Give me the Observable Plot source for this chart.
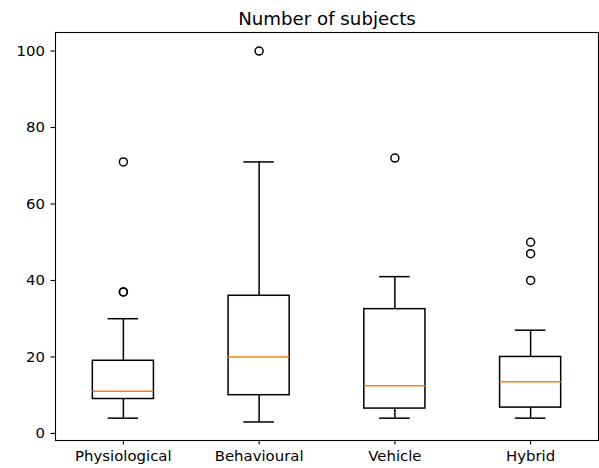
<!DOCTYPE html>
<html>
<head>
<meta charset="utf-8">
<script src="https://cdn.jsdelivr.net/npm/d3@7"></script>
<script src="https://cdn.jsdelivr.net/npm/@observablehq/plot@0.6"></script>
<style>
  html, body { margin: 0; padding: 0; background: #fff; }
</style>
</head>
<body>
<div id="chart"></div>
<script>
const categories = ["Physiological", "Behavioural", "Vehicle", "Hybrid"];
const whiskerLow = [4, 3, 4, 4];
const q1 = [9, 10, 6.5, 6.75];
const median = [11, 20, 12.5, 13.5];
const q3 = [19, 36, 32.5, 20];
const whiskerHigh = [30, 71, 41, 27];
const outliers = [
  [37, 37, 71],
  [100],
  [72],
  [40, 47, 50]
];
const yTicks = [0, 20, 40, 60, 80, 100];
const title = "Number of subjects";

const boxWidth = 0.45;
const capWidth = boxWidth / 2;

const boxes = categories.map((c, i) => ({
  pos: i + 1, name: c,
  lo: whiskerLow[i], q1: q1[i], med: median[i], q3: q3[i], hi: whiskerHigh[i]
}));
const fliers = outliers.flatMap((arr, i) => arr.map(v => ({ pos: i + 1, v })));

const lw = 1.5;
const fs = 14.9;
const chart = Plot.plot({
  width: 599,
  height: 468,
  marginLeft: 55,
  marginRight: 1,
  marginTop: 32,
  marginBottom: 28,
  style: { fontFamily: "DejaVu Sans", fontSize: fs + "px", color: "black", background: "white" },
  x: { type: "linear", domain: [0.5, 4.5] },
  y: { domain: [-1.85, 104.85] },
  marks: [
    Plot.axisY({ ticks: yTicks, tickSize: 4.5, tickPadding: 6, label: null, fontSize: fs, stroke: "black", strokeWidth: 1.1 }),
    Plot.axisX({ ticks: [1, 2, 3, 4], tickFormat: d => categories[d - 1], tickSize: 4.5, tickPadding: 5, label: null, fontSize: fs, stroke: "black", strokeWidth: 1.1 }),
    Plot.ruleX(boxes, { x: "pos", y1: "lo", y2: "q1", stroke: "black", strokeWidth: lw }),
    Plot.ruleX(boxes, { x: "pos", y1: "q3", y2: "hi", stroke: "black", strokeWidth: lw }),
    Plot.ruleY(boxes, { y: "lo", x1: d => d.pos - capWidth / 2, x2: d => d.pos + capWidth / 2, stroke: "black", strokeWidth: lw }),
    Plot.ruleY(boxes, { y: "hi", x1: d => d.pos - capWidth / 2, x2: d => d.pos + capWidth / 2, stroke: "black", strokeWidth: lw }),
    Plot.rect(boxes, { x1: d => d.pos - boxWidth / 2, x2: d => d.pos + boxWidth / 2, y1: "q1", y2: "q3", fill: "none", stroke: "black", strokeWidth: lw }),
    Plot.ruleY(boxes, { y: "med", x1: d => d.pos - boxWidth / 2, x2: d => d.pos + boxWidth / 2, stroke: "#ff7f0e", strokeWidth: lw }),
    Plot.dot(fliers, { x: "pos", y: "v", r: 4, stroke: "black", strokeWidth: lw, fill: "none" }),
    Plot.frame({ stroke: "black", strokeWidth: 1.1 }),
    Plot.text([title], { frameAnchor: "top", dy: -8, text: d => d, fontSize: 18.2, fill: "black", lineAnchor: "bottom" })
  ]
});
document.getElementById("chart").appendChild(chart);
</script>
</body>
</html>
